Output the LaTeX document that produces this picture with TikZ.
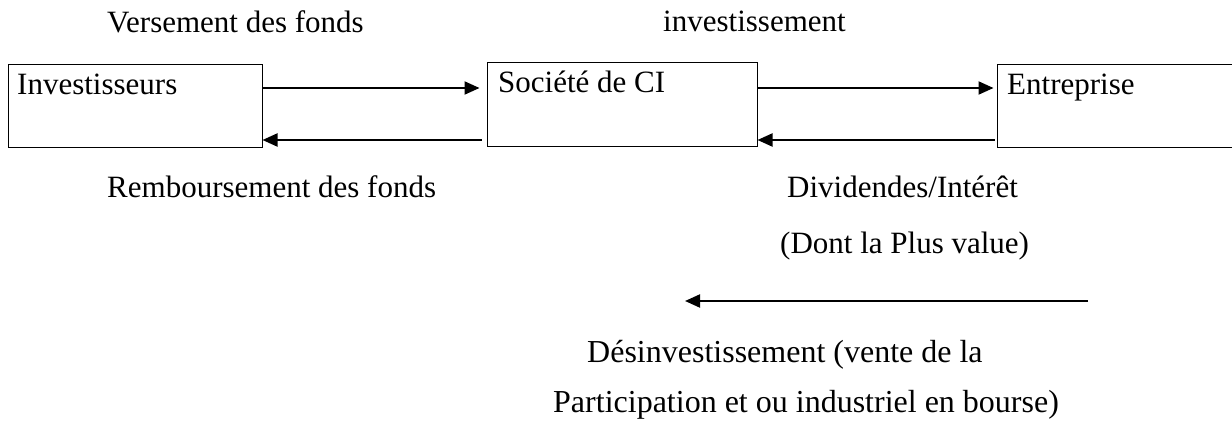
\documentclass[tikz,border=0pt]{standalone}
\usepackage{fontspec}
\setmainfont{Liberation Serif}
\usetikzlibrary{arrows.meta}
\begin{document}
\begin{tikzpicture}[x=1pt,y=-1pt,
  box/.style={draw,line width=1pt,inner sep=0pt},
  lbl/.style={anchor=base west,inner sep=0pt,font=\fontsize{31}{37}\selectfont},
  lblb/.style={lbl,font=\fontsize{32}{38}\selectfont},
  arr/.style={line width=2pt,-{Triangle[length=15pt,width=13pt]}}]
\useasboundingbox (0,0) rectangle (1232,425);
% boxes
\node[box,minimum width=254pt,minimum height=83pt] (inv) at (135,106.5) {};
\node[box,minimum width=270pt,minimum height=84pt] (soc) at (622,105) {};
\node[box,minimum width=243pt,minimum height=83pt] (ent) at (1118.5,106.5) {};
% box texts
\node[lbl] (tinv) at (17,95) {Investisseurs};
\node[lbl] (tsoc) at (498,93) {Société de CI};
\node[lbl] (tent) at (1007,95) {Entreprise};
% labels
\node[lbl] (vers) at (107,33) {Versement des fonds};
\node[lbl] (invt) at (663,32) {investissement};
\node[lbl] (remb) at (107,197) {Remboursement des fonds};
\node[lbl] (divi) at (787,197) {Dividendes/Intérêt};
\node[lbl] (dont) at (780,253) {(Dont la Plus value)};
\node[lblb] (desi) at (587,362) {Désinvestissement (vente de la};
\node[lblb] (part) at (553,412) {Participation et ou industriel en bourse)};
% arrows
\draw[arr,shorten >=7pt] ([yshift=18.5pt]inv.east) -- ([yshift=18.5pt]inv.east -| soc.west);
\draw[arr,shorten <=5pt] ([yshift=-33.5pt]inv.east -| soc.west) -- ([yshift=-33.5pt]inv.east);
\draw[arr,shorten >=3pt] ([yshift=17pt]soc.east) -- ([yshift=17pt]soc.east -| ent.west);
\draw[arr,shorten <=2pt] ([yshift=-35pt]soc.east -| ent.west) -- ([yshift=-35pt]soc.east);
\coordinate (ds) at (1088,301);
\coordinate (de) at (685,301);
\draw[arr] (ds) -- (de);
\end{tikzpicture}
\end{document}
